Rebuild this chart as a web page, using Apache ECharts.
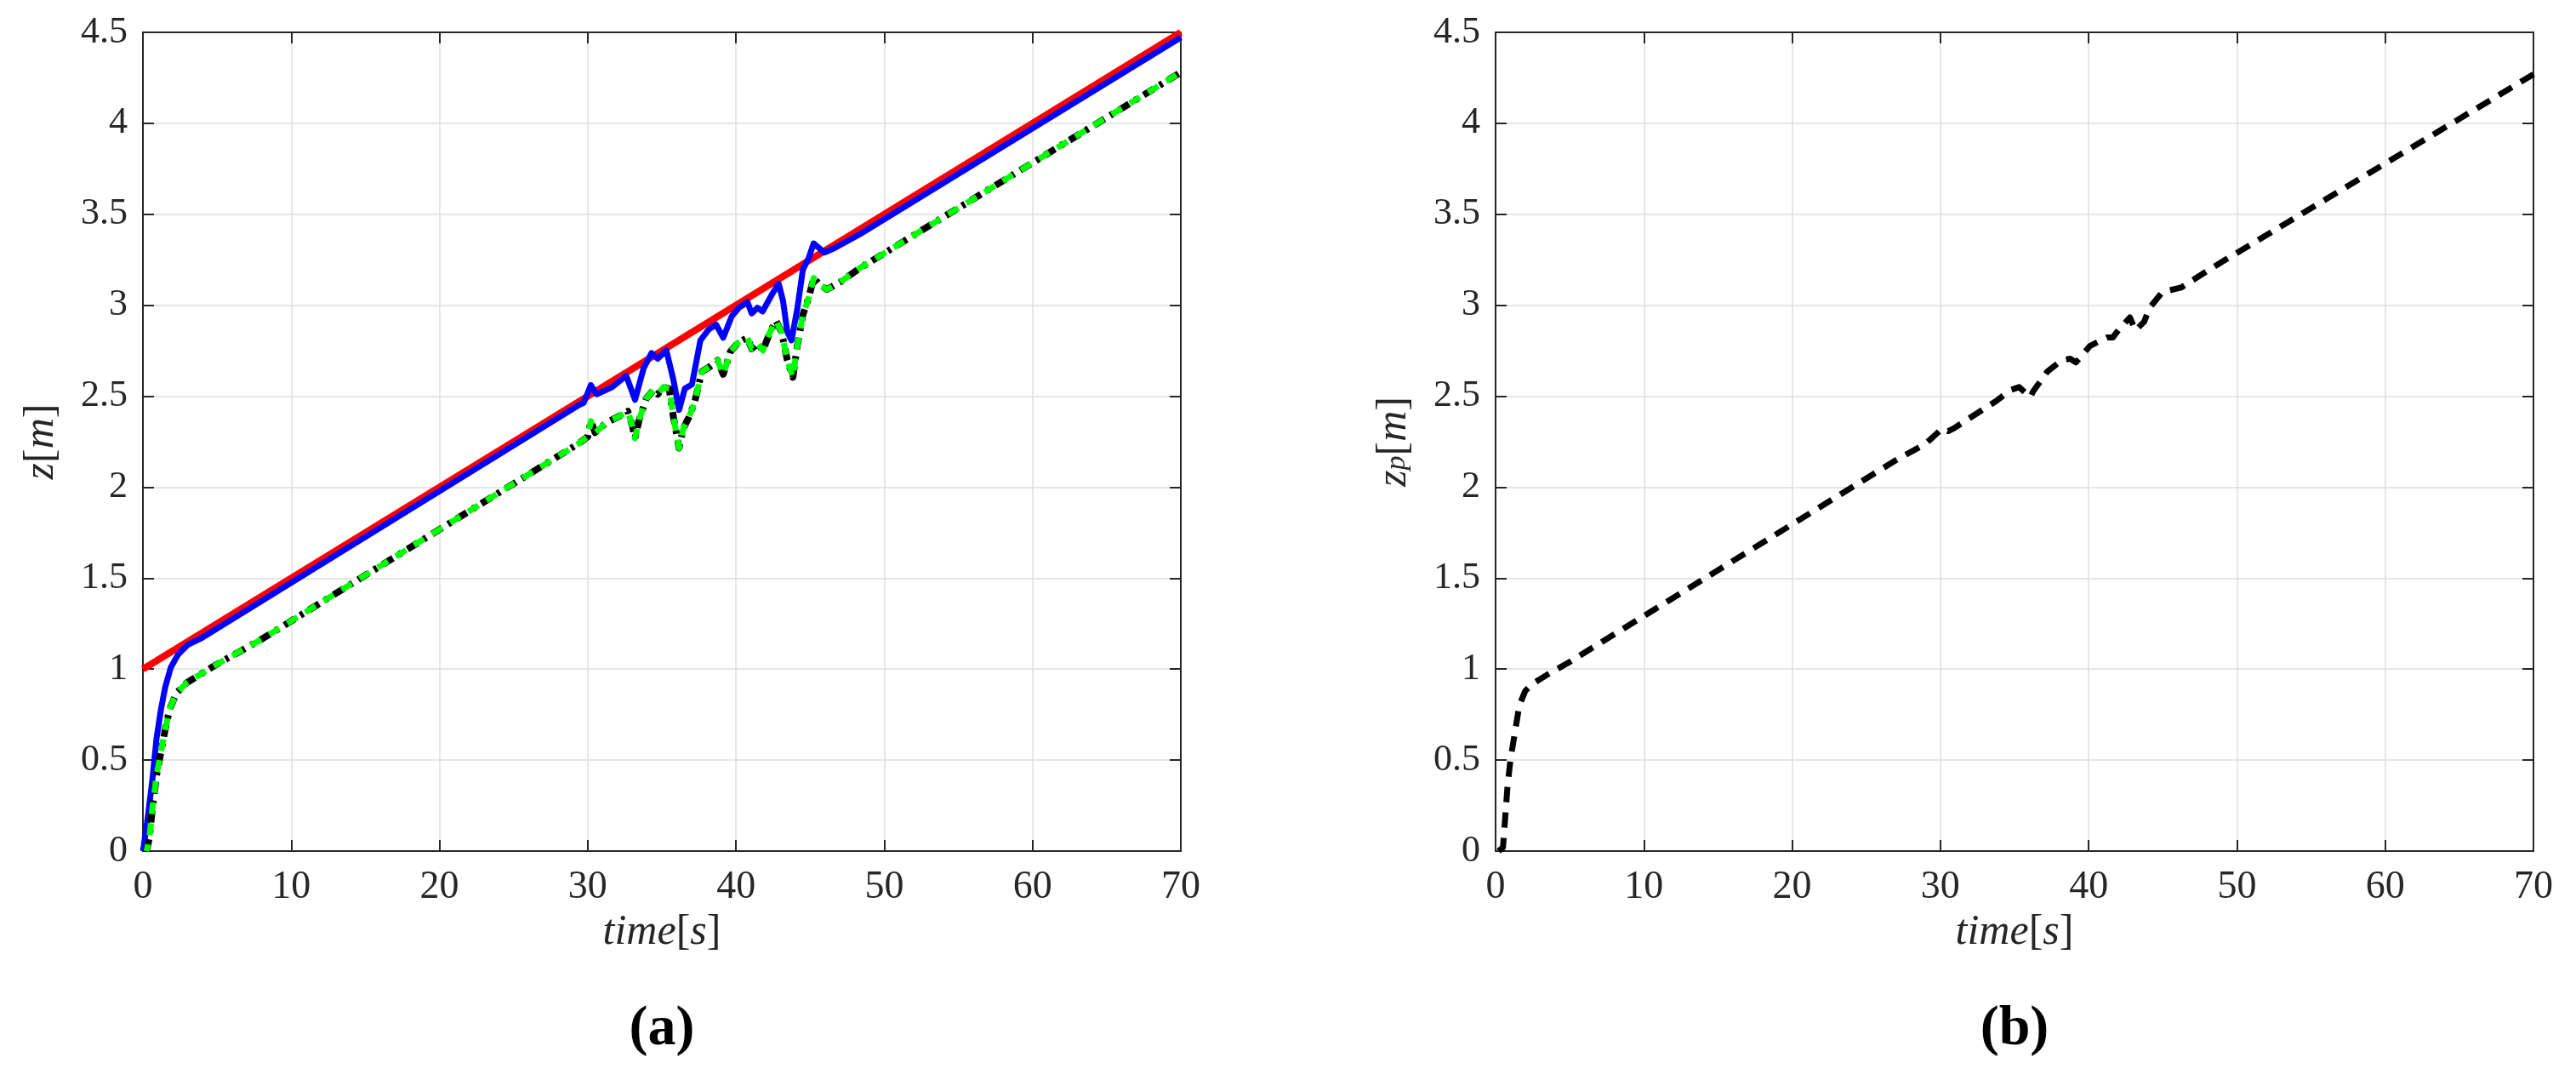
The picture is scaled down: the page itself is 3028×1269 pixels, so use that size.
<!DOCTYPE html>
<html>
<head>
<meta charset="utf-8" />
<title>z tracking</title>
<script src="https://cdn.jsdelivr.net/npm/echarts@6/dist/echarts.min.js"></script>
<style>
  html, body { margin: 0; padding: 0; background: #fff; }
  #chart { width: 3028px; height: 1269px; }
</style>
</head>
<body>
<div id="chart"></div>
<script>
// ---- data ----
// (a) reference (red)
var refT = [0, 70];
var refZ = [1, 4.5];

// (a) blue, solid
var blueT = [0, 0.06, 0.35, 0.63, 0.92, 1.21, 1.5, 1.88, 2.36, 3.03, 4.0, 29.35, 29.73, 30.21, 30.6, 31.65, 32.6, 33.19, 33.76, 34.3, 34.72, 35.3, 35.78, 36.16, 36.55, 37.03, 37.6, 38.18, 38.66, 39.14, 39.71, 40.19, 40.77, 41.06, 41.44, 41.79, 42.4, 42.88, 43.17, 43.46, 43.74, 44.13, 44.51, 44.9, 45.24, 45.95, 46.62, 48.35, 70];
var blueZ = [0, 0.03, 0.2, 0.386, 0.62, 0.776, 0.9, 1.009, 1.079, 1.134, 1.173, 2.449, 2.464, 2.561, 2.511, 2.55, 2.612, 2.48, 2.651, 2.737, 2.706, 2.752, 2.589, 2.425, 2.542, 2.565, 2.807, 2.869, 2.893, 2.822, 2.939, 2.986, 3.017, 2.955, 2.986, 2.966, 3.056, 3.118, 3.025, 2.854, 2.807, 2.978, 3.196, 3.259, 3.34, 3.29, 3.313, 3.39, 4.472];

// (a) black dash-dot and green dashed (they lie on top of each other)
var pathT = [0.25, 0.44, 0.63, 0.92, 1.21, 1.5, 1.79, 2.26, 2.94, 3.7, 4.95, 6.49, 8.02, 29.35, 30, 30.21, 30.5, 31.27, 32.03, 32.7, 33.0, 33.19, 33.47, 33.95, 34.43, 34.72, 35.1, 35.49, 35.78, 36.16, 36.45, 36.83, 37.2, 37.7, 38.18, 38.75, 39.14, 39.62, 40.1, 40.77, 41.06, 41.44, 41.82, 42.3, 42.69, 43.07, 43.46, 43.84, 44.13, 44.51, 44.9, 45.24, 45.66, 46.14, 47.0, 48.35, 70];
var blackZ = [0, 0.075, 0.23, 0.417, 0.542, 0.667, 0.776, 0.869, 0.924, 0.963, 1.025, 1.095, 1.165, 2.238, 2.277, 2.363, 2.3, 2.355, 2.386, 2.417, 2.34, 2.269, 2.371, 2.488, 2.534, 2.511, 2.55, 2.542, 2.386, 2.215, 2.324, 2.386, 2.464, 2.636, 2.659, 2.698, 2.62, 2.745, 2.791, 2.822, 2.76, 2.791, 2.752, 2.854, 2.916, 2.854, 2.698, 2.604, 2.776, 2.947, 3.04, 3.15, 3.11, 3.087, 3.126, 3.204, 4.28];
var greenZ = [0, 0.075, 0.23, 0.417, 0.542, 0.667, 0.776, 0.869, 0.924, 0.963, 1.025, 1.095, 1.165, 2.238, 2.277, 2.363, 2.3, 2.355, 2.386, 2.417, 2.34, 2.269, 2.371, 2.488, 2.534, 2.511, 2.55, 2.542, 2.386, 2.215, 2.324, 2.386, 2.464, 2.636, 2.659, 2.698, 2.62, 2.745, 2.791, 2.822, 2.76, 2.791, 2.752, 2.854, 2.916, 2.854, 2.698, 2.604, 2.776, 2.947, 3.04, 3.15, 3.11, 3.087, 3.126, 3.204, 4.28];

// (b) z_p, black dashed
var zpT = [0.2, 0.5, 0.8, 1.0, 1.3, 1.6, 2.0, 2.5, 3.5, 5, 27.07, 28.98, 30.13, 30.52, 30.9, 32.24, 33.58, 33.87, 34.73, 35.31, 36.07, 36.26, 37.22, 38.18, 38.75, 39.14, 40.1, 41.25, 41.63, 42.0, 42.78, 43.16, 43.74, 44.12, 44.98, 46.23, 48.33, 70];
var zpZ = [0, 0.02, 0.35, 0.5, 0.65, 0.8, 0.88, 0.92, 0.97, 1.04, 2.152, 2.237, 2.323, 2.308, 2.323, 2.394, 2.464, 2.48, 2.534, 2.55, 2.495, 2.527, 2.636, 2.698, 2.706, 2.686, 2.777, 2.823, 2.823, 2.862, 2.933, 2.862, 2.909, 2.987, 3.073, 3.097, 3.206, 4.27];

function pairs(t, z) {
  var out = [];
  for (var i = 0; i < t.length; i++) out.push([t[i], z[i]]);
  return out;
}

var serif = '"Liberation Serif", "DejaVu Serif", serif';
var ink = '#262626';

var nameRich = {
  i: { fontFamily: serif, fontStyle: 'italic', fontSize: 50, color: ink, padding: [0, 0, 6, 0] },
  n: { fontFamily: serif, fontSize: 50, color: ink, padding: [0, 0, 6, 0] },
  s: { fontFamily: serif, fontStyle: 'italic', fontSize: 34, color: ink }
};

function xAxes(g) {
  return [{
    type: 'value', gridIndex: g, min: 0, max: 70, interval: 10,
    name: '{i|time}{n|[}{i|s}{n|]}', nameLocation: 'middle', nameGap: 66,
    nameTextStyle: { rich: nameRich },
    axisLine: { show: true, onZero: false, lineStyle: { color: ink, width: 2 } },
    axisTick: { show: true, inside: true, length: 13, lineStyle: { color: ink, width: 2 } },
    axisLabel: { fontFamily: serif, fontSize: 46, color: ink, margin: 20 },
    splitLine: { show: true, lineStyle: { color: '#dedede', width: 1.5 } }
  }, {
    type: 'value', gridIndex: g, position: 'top', min: 0, max: 70, interval: 10,
    axisLine: { show: true, onZero: false, lineStyle: { color: ink, width: 2 } },
    axisTick: { show: true, inside: true, length: 13, lineStyle: { color: ink, width: 2 } },
    axisLabel: { show: false },
    splitLine: { show: false }
  }];
}

function yAxes(g, label) {
  return [{
    type: 'value', gridIndex: g, min: 0, max: 4.5, interval: 0.5,
    name: label, nameLocation: 'middle', nameGap: 88,
    nameTextStyle: { rich: nameRich },
    axisLine: { show: true, onZero: false, lineStyle: { color: ink, width: 2 } },
    axisTick: { show: true, inside: true, length: 13, lineStyle: { color: ink, width: 2 } },
    axisLabel: { fontFamily: serif, fontSize: 44, color: ink, margin: 18 },
    splitLine: { show: true, lineStyle: { color: '#dedede', width: 1.5 } }
  }, {
    type: 'value', gridIndex: g, position: 'right', min: 0, max: 4.5, interval: 0.5,
    axisLine: { show: true, onZero: false, lineStyle: { color: ink, width: 2 } },
    axisTick: { show: true, inside: true, length: 13, lineStyle: { color: ink, width: 2 } },
    axisLabel: { show: false },
    splitLine: { show: false }
  }];
}

var chart = echarts.init(document.getElementById('chart'), null, { renderer: 'canvas' });

var option = {
  backgroundColor: '#ffffff',
  animation: false,
  textStyle: { fontFamily: serif },
  grid: [
    { left: 168, top: 38, width: 1220, height: 962 },
    { left: 1758, top: 38, width: 1220, height: 962 }
  ],
  xAxis: xAxes(0).concat(xAxes(1)),
  yAxis: yAxes(0, '{i|z}{n|[}{i|m}{n|]}').concat(yAxes(1, '{i|z}{s|p}{n|[}{i|m}{n|]}')),
  series: [
    {
      type: 'line', xAxisIndex: 0, yAxisIndex: 0, data: pairs(refT, refZ),
      showSymbol: false, lineStyle: { color: '#ff0000', width: 8 }, z: 2
    },
    {
      type: 'line', xAxisIndex: 0, yAxisIndex: 0, data: pairs(blueT, blueZ),
      showSymbol: false, lineStyle: { color: '#0000ff', width: 7, join: 'round' }, z: 3
    },
    {
      type: 'line', xAxisIndex: 0, yAxisIndex: 0, data: pairs(pathT, blackZ),
      showSymbol: false,
      lineStyle: { color: '#000000', width: 8, type: [14, 8, 4, 8], join: 'round' }, z: 4
    },
    {
      type: 'line', xAxisIndex: 0, yAxisIndex: 0, data: pairs(pathT, greenZ),
      showSymbol: false,
      lineStyle: { color: '#00ff00', width: 7, type: [14, 11], dashOffset: 6, join: 'round' }, z: 5
    },
    {
      type: 'line', xAxisIndex: 2, yAxisIndex: 2, data: pairs(zpT, zpZ),
      showSymbol: false,
      lineStyle: { color: '#000000', width: 7, type: [18, 12], join: 'round' }, z: 3
    }
  ],
  graphic: [
    { type: 'text', x: 778, y: 1210, style: { text: '(a)', font: 'bold 66px "Liberation Serif"', fill: '#000', textAlign: 'center', textVerticalAlign: 'middle' } },
    { type: 'text', x: 2368, y: 1210, style: { text: '(b)', font: 'bold 66px "Liberation Serif"', fill: '#000', textAlign: 'center', textVerticalAlign: 'middle' } }
  ]
};

chart.setOption(option);
window.onresize = function () { chart.resize(); };
</script>
</body>
</html>
